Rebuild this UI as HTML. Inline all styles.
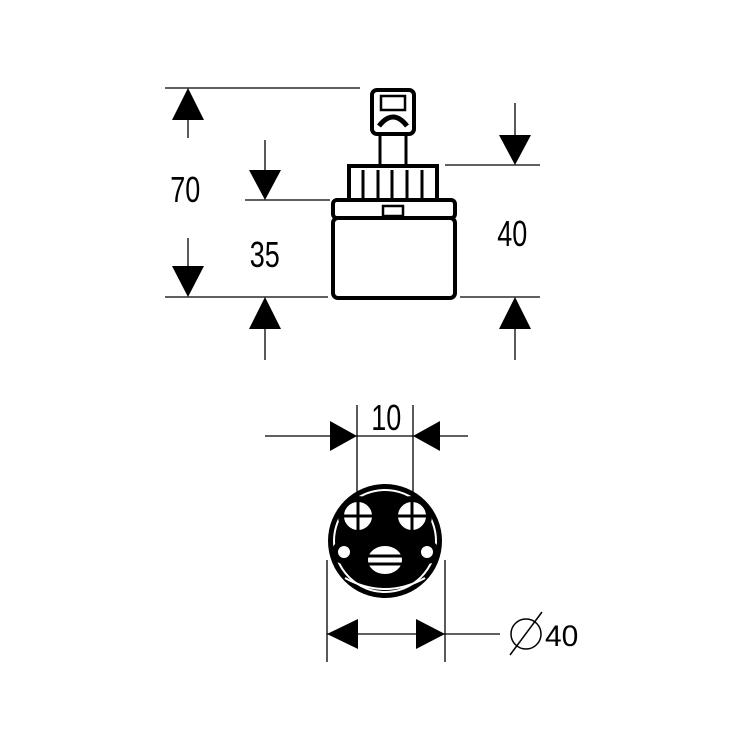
<!DOCTYPE html>
<html><head><style>body{margin:0;background:#fff}svg{display:block}</style></head><body>
<svg width="750" height="750" viewBox="0 0 750 750" xmlns="http://www.w3.org/2000/svg">
<rect width="750" height="750" fill="#fff"/>
<g stroke="#000" stroke-width="1.3" fill="none">
<line x1="165" y1="88" x2="360" y2="88"/>
<line x1="165" y1="297" x2="328" y2="297"/>
<line x1="460" y1="297" x2="540" y2="297"/>
<line x1="245" y1="200" x2="330" y2="200"/>
<line x1="445" y1="165" x2="540" y2="165"/>
<line x1="188" y1="118" x2="188" y2="138"/>
<line x1="188" y1="238" x2="188" y2="268"/>
<line x1="265" y1="140" x2="265" y2="172"/>
<line x1="265" y1="328" x2="265" y2="360"/>
<line x1="515" y1="103" x2="515" y2="137"/>
<line x1="515" y1="328" x2="515" y2="360"/>
<line x1="357" y1="405" x2="357" y2="500"/>
<line x1="413" y1="405" x2="413" y2="500"/>
<line x1="265" y1="436" x2="468" y2="436"/>
<line x1="327" y1="560" x2="327" y2="662"/>
<line x1="445" y1="560" x2="445" y2="662"/>
<line x1="327" y1="634" x2="500" y2="634"/>
</g>
<g fill="#000">
<polygon points="188,88 172,120 204,120"/>
<polygon points="188,297 172,266 204,266"/>
<polygon points="265,200 249,170 281,170"/>
<polygon points="265,297 249,329 281,329"/>
<polygon points="515,165 499,135 531,135"/>
<polygon points="515,297 499,329 531,329"/>
<polygon points="357,436 330,421 330,451"/>
<polygon points="413,436 440,421 440,451"/>
<polygon points="327,634 358,619 358,649"/>
<polygon points="445,634 416,619 416,649"/>
</g>
<g stroke="#000" fill="#fff" stroke-width="4">
<rect x="372" y="90" width="42" height="44" rx="5"/>
<rect x="381" y="96" width="24" height="14" stroke-width="2.5"/>
<path d="M380,136 V165 M406,136 V165" stroke-width="3"/>
<path d="M379,126 Q393,108 407,126" stroke-width="5" fill="none"/>
<path d="M349,166 H437 V200 H349 Z"/>
<path d="M363,170 V198 M378,170 V198 M392,170 V198 M407,170 V198 M422,170 V198" stroke-width="3"/>
<rect x="333" y="200" width="122" height="18" rx="4"/>
<rect x="333" y="218" width="122" height="80" rx="5"/>
<rect x="383" y="206" width="20" height="10" stroke-width="2.5"/>
</g>
<circle cx="385" cy="541" r="57" fill="#000"/>
<circle cx="385" cy="541" r="51" fill="none" stroke="#fff" stroke-width="2"/>
<g fill="#fff" stroke="#000" stroke-width="6">
<circle cx="358" cy="516" r="17"/>
<circle cx="412" cy="516" r="17"/>
<circle cx="344" cy="552" r="9"/>
<circle cx="427" cy="552" r="9"/>
<ellipse cx="385" cy="560" rx="20" ry="17"/>
</g>
<g stroke="#000" stroke-width="3">
<path d="M358,501 V531 M343,516 H373 M412,501 V531 M397,516 H427 M368,556 H402 M368,564 H402"/>
</g>
<path d="M345,578 Q385,600 425,578" stroke="#fff" stroke-width="2" fill="none"/>
<g font-family="'Liberation Sans', sans-serif" font-size="36" fill="#000" transform="scale(0.75,1)">
<text x="227" y="202">70</text>
<text x="333" y="267">35</text>
<text x="663" y="246">40</text>
<text x="495" y="430">10</text>
</g>
<circle cx="526" cy="634" r="15" fill="none" stroke="#000" stroke-width="1.5"/>
<line x1="510" y1="655" x2="542" y2="612" stroke="#000" stroke-width="1.5"/>
<text x="545" y="646" font-family="'Liberation Sans', sans-serif" font-size="30" fill="#000">40</text>
</svg>
</body></html>
